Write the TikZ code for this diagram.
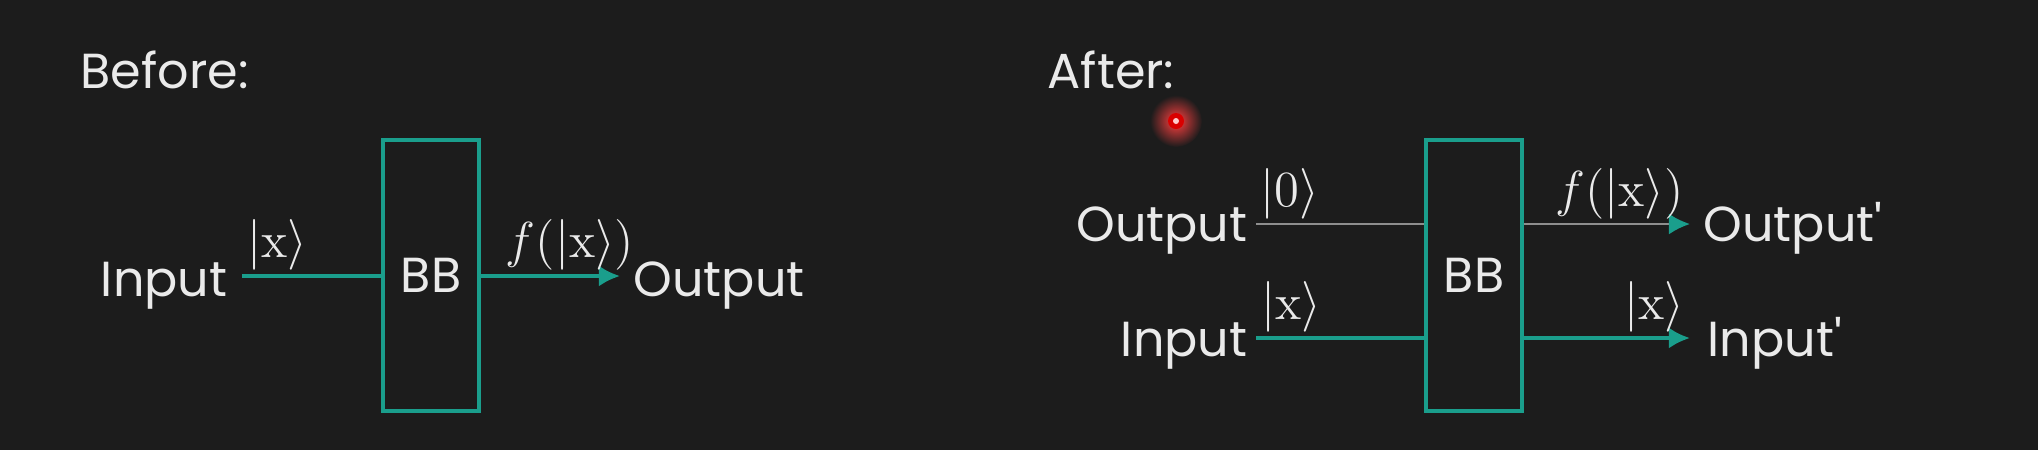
\documentclass[tikz,border=0pt]{standalone}
\usepackage{amsmath}
\usepackage[no-math]{fontspec}
\setmainfont{Poppins}[Ligatures=TeXOff]
\usetikzlibrary{arrows.meta}
\definecolor{bgdark}{HTML}{1C1C1C}
\definecolor{tealbb}{HTML}{1A9E8C}
\definecolor{greywire}{HTML}{8E8E8E}
\definecolor{txtwhite}{HTML}{EAEAEA}
\tikzset{
  blackbox/.style={draw=tealbb, line width=1.1pt, minimum width=0.96cm, minimum height=2.71cm, text=txtwhite, font=\fontsize{14}{16}\selectfont},
  wirelbl/.style={text=txtwhite, font=\fontsize{14}{16}\selectfont, inner sep=0pt},
  ket/.style={text=txtwhite, font=\fontsize{14}{16}\selectfont, inner sep=1pt},
  tealwire/.style={draw=tealbb, line width=1.1pt},
  greyline/.style={draw=greywire, line width=0.8pt},
  tip/.style={-{Latex[length=6pt, width=6pt, fill=tealbb, color=tealbb]}}
}
\begin{document}
\begin{tikzpicture}[x=0.01cm, y=-0.01cm]
    \fill[bgdark] (0,0) rectangle (2038,450);
    \useasboundingbox (0,0) rectangle (2038,450);

    % before
    \node[wirelbl, anchor=base west] (before) at (80,88) {Before:};
    \node[blackbox] (bb1) at (431,275.5) {BB};
    \coordinate (w1) at (242,276);
    \coordinate (o1) at (620,276);
    \node[wirelbl, anchor=base east] (in1) at (228,296) {Input};
    \node[wirelbl, anchor=base west] (out1) at (633,296) {Output};
    \draw[tealwire] (w1) -- node[ket, pos=0, above right] (kx1) {$|\mathrm{x}\rangle$} (w1 -| bb1.west);
    \draw[tealwire, tip] (w1 -| bb1.east) -- node[ket, pos=0.14, above right] (kf1) {$f(|\mathrm{x}\rangle)$} (o1);

    % after
    \node[wirelbl, anchor=base west] (after) at (1047,88) {After:};
    \shade[inner color=red!75!white, outer color=bgdark] (1176,121) circle (26);
    \fill[red!85!black] (1176,121) circle (8);
    \fill[red!20!white] (1176,121) circle (3);
    \node[blackbox] (bb2) at (1474,275.5) {BB};
    \coordinate (w2) at (1256,224);
    \coordinate (w3) at (1256,338);
    \coordinate (o2) at (1690,224);
    \coordinate (o3) at (1690,338);
    \node[wirelbl, anchor=base east] (out2) at (1248,241) {Output};
    \node[wirelbl, anchor=base east] (in2) at (1248,356) {Input};
    \node[wirelbl, anchor=base west] (outp) at (1703,241) {Output'};
    \node[wirelbl, anchor=base west] (inp) at (1707,356) {Input'};
    \draw[greyline] (w2) -- node[ket, pos=0, above right] (k02) {$|0\rangle$} (w2 -| bb2.west);
    \draw[tealwire] (w3) -- node[ket, pos=0, above right] (kx2) {$|\mathrm{x}\rangle$} (w3 -| bb2.west);
    \draw[greyline, tip] (w2 -| bb2.east) -- node[ket, pos=0.16, above right] (kf2) {$f(|\mathrm{x}\rangle)$} (o2);
    \draw[tealwire, tip] (w3 -| bb2.east) -- node[ket, pos=0.57, above right] (kx3) {$|\mathrm{x}\rangle$} (o3);
\end{tikzpicture}
\end{document}
